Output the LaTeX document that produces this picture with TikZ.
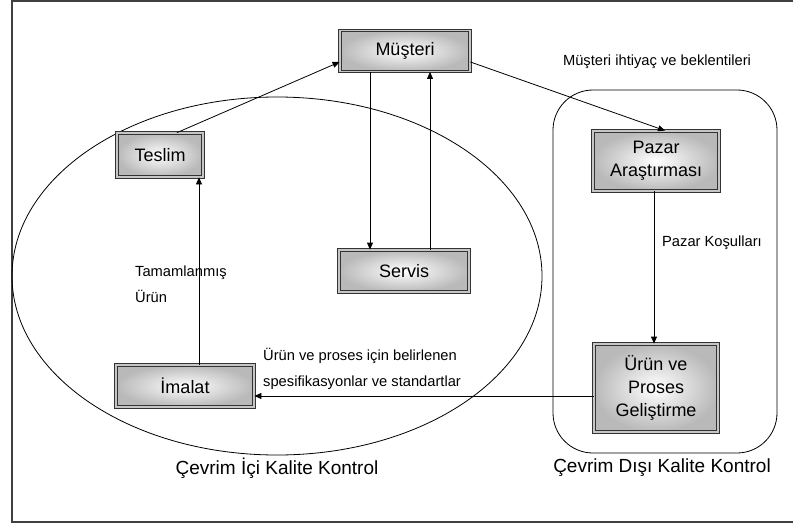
\documentclass[tikz,border=0pt]{standalone}
\usepackage{fontspec}
\setmainfont{Liberation Sans}
\usetikzlibrary{arrows.meta}
\begin{document}
\begin{tikzpicture}[x=1pt,y=-1pt,
  procbox/.style={draw=black!80, double=gray!45, double distance=1.8pt, line width=0.8pt,
    shading=radial, inner color=white, outer color=gray!55,
    align=center, font=\fontsize{18}{23}\selectfont, inner sep=0pt},
  flow/.style={line width=0.8pt, -{Triangle[length=7pt,width=6pt]}},
  note/.style={font=\fontsize{14.7}{26}\selectfont, inner sep=0pt},
  group/.style={font=\fontsize{19}{22}\selectfont, inner sep=0pt}]
\useasboundingbox (0,0) rectangle (794,524);
% outer frame
\draw[line width=1.4pt, black!75] (793,1) -- (12,1) -- (12,522) -- (793,522);
% loop regions
\draw[line width=0.8pt] (277,276) ellipse [x radius=265, y radius=179];
\draw[line width=0.8pt, rounded corners=40pt] (553,90) rectangle (777,453);
% process boxes
\node[procbox, minimum width=130, minimum height=41] (musteri) at (405,51) {Müşteri};
\node[procbox, minimum width=86, minimum height=44] (teslim) at (160,155) {Teslim};
\node[procbox, minimum width=130, minimum height=42] (servis) at (404,271) {Servis};
\node[procbox, minimum width=138, minimum height=42] (imalat) at (185,386) {İmalat};
\node[procbox, minimum width=126, minimum height=60] (pazar) at (656,161) {Pazar\\Araştırması};
\node[procbox, minimum width=124, minimum height=88] (urun) at (656,388) {Ürün ve\\Proses\\Geliştirme};
% connectors
\draw[flow] (teslim.north -| 177,0) -- (musteri.west |- 0,62);
\draw[flow] (musteri.south -| 370,0) -- (servis.north -| 370,0);
\draw[flow] (servis.north -| 430,0) -- (musteri.south -| 430,0);
\draw[flow] (musteri.east |- 0,62) -- (pazar.north -| 665,0);
\draw[flow] (pazar.south -| 654,0) -- (urun.north -| 654,0);
\draw[flow] (urun.west |- 0,396) -- (imalat.east |- 0,396);
\draw[flow] (imalat.north -| 199,0) -- (teslim.south -| 199,0);
% labels
\node[note] (lblneed) at (657,62) {Müşteri ihtiyaç ve beklentileri};
\node[note] (lblcond) at (712,243) {Pazar Koşulları};
\node[note, align=left, anchor=west] (lbldone) at (135,284) {Tamamlanmış\\Ürün};
\node[note, align=left, anchor=west] (lblspec) at (263,369) {Ürün ve proses için belirlenen\\spesifikasyonlar ve standartlar};
\node[group] (lblin) at (277,468) {Çevrim İçi Kalite Kontrol};
\node[group] (lblout) at (662,468) {Çevrim Dışı Kalite Kontrol};
\end{tikzpicture}
\end{document}
